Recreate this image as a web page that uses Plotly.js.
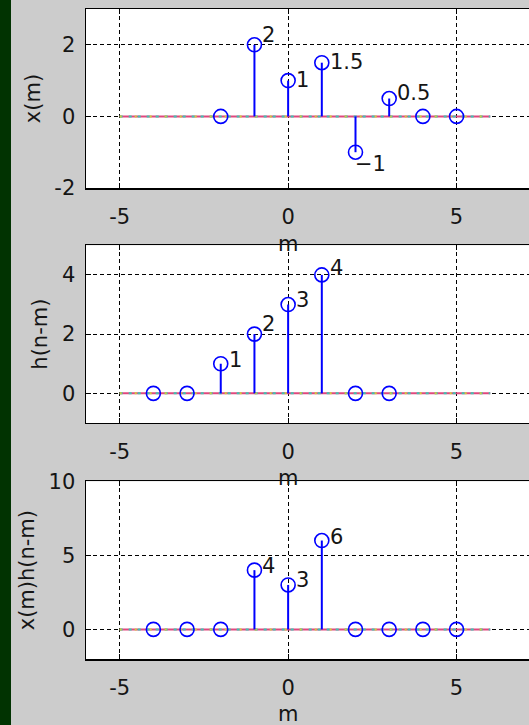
<!DOCTYPE html>
<html><head><meta charset="utf-8">
<script src="https://cdn.plot.ly/plotly-3.0.1.min.js"></script>
<style>
html,body{margin:0;padding:0;overflow:hidden;background:#cccccc;width:529px;height:725px}
#strip{position:absolute;left:0;top:0;width:11px;height:725px;background:#013301;z-index:5}
#chart{position:absolute;left:0;top:0;width:640px;height:725px}
</style></head><body>
<div id="chart"></div><div id="strip"></div>
<script>
// ---- data ----
const mX = [-2, -1, 0, 1, 2, 3, 4, 5];
const xVals = [0, 2, 1, 1.5, -1, 0.5, 0, 0];
const mH = [-4, -3, -2, -1, 0, 1, 2, 3];
const hVals = [0, 0, 1, 2, 3, 4, 0, 0];
const mP = [-4, -3, -2, -1, 0, 1, 2, 3, 4, 5];
const pVals = [0, 0, 0, 4, 3, 6, 0, 0, 0, 0];
const baseX = [-5, 6];
const baseY = [0, 0];
const xTickVals = [-5, 0, 5];
const xTickText = ['-5', '0', '5'];
const yTicks1 = [-2, 0, 2], yText1 = ['-2', '0', '2'];
const yTicks2 = [0, 2, 4], yText2 = ['0', '2', '4'];
const yTicks3 = [0, 5, 10], yText3 = ['0', '5', '10'];
const yTitles = ['x(m)', 'h(n-m)', 'x(m)h(n-m)'];
const xTitle = 'm';

// ---- style (label nudges in px, by nonzero-label order) ----
const lift1 = [10, 1, 1, -12, 5.5], push1 = [6, 6, 6, -3, 6];
const lift2 = [3.6, 10.6, 5, 7], push2 = [6, 6, 6, 6];
const lift3 = [4, 4.6, 3.7], push3 = [6, 6, 6];

const FONT = 'DejaVu Sans';
const FS = 21;
const BLUE = '#0000ff';
const TXT = '#151515';

function refs(ax) { return ax === 1 ? ['x', 'y'] : ['x' + ax, 'y' + ax]; }

function stemTraces(m, v, ax) {
  const sx = [], sy = [];
  m.forEach((mi, i) => { sx.push(mi, mi, null); sy.push(0, v[i], null); });
  const [xa, ya] = refs(ax);
  return [
    {x: baseX, y: baseY, xaxis: xa, yaxis: ya, mode: 'lines', line: {color: '#e0487e', width: 2}, hoverinfo: 'skip'},
    {x: baseX, y: baseY, xaxis: xa, yaxis: ya, mode: 'lines', line: {color: '#3cc4b4', width: 2, dash: '3px,6px'}, hoverinfo: 'skip'},
    {x: baseX, y: baseY, xaxis: xa, yaxis: ya, mode: 'lines', line: {color: '#cfcf3a', width: 2, dash: '2px,13px'}, hoverinfo: 'skip'},
    {x: sx, y: sy, xaxis: xa, yaxis: ya, mode: 'lines', line: {color: BLUE, width: 2}, hoverinfo: 'skip'},
    {x: m, y: v, xaxis: xa, yaxis: ya, mode: 'markers',
     marker: {symbol: 'circle-open', size: 14, color: BLUE, line: {width: 1.6, color: BLUE}}}
  ];
}

function labels(m, v, ax, lift, push) {
  const out = [];
  const [xa, ya] = refs(ax);
  let k = 0;
  m.forEach((mi, i) => {
    if (v[i] !== 0) {
      out.push({x: mi, y: v[i], xref: xa, yref: ya,
        text: String(v[i]).replace('-', '\u2212'), showarrow: false,
        xanchor: 'left', yanchor: 'middle', xshift: push[k], yshift: lift[k],
        font: {family: FONT, size: FS, color: TXT}});
      k++;
    }
  });
  // x-axis label, centred under m = 0
  out.push({x: 0, y: -0.232, xref: xa, yref: ya + ' domain', text: xTitle, showarrow: false,
    xanchor: 'center', yanchor: 'top', font: {family: FONT, size: FS, color: TXT}});
  return out;
}

const axStyle = {
  showline: true, linecolor: '#000', linewidth: 1.5, mirror: 'ticks',
  ticks: 'inside', ticklen: 5, tickcolor: '#000', tickwidth: 1,
  showgrid: true, gridcolor: '#000', gridwidth: 1, griddash: '4px,3px',
  zeroline: false, tickfont: {family: FONT, size: FS, color: TXT},
  tickmode: 'array', fixedrange: true
};

function xaxis(anchor) {
  return Object.assign({}, axStyle, {range: [-6, 10], tickvals: xTickVals, ticktext: xTickText,
    anchor: anchor, ticklabelstandoff: 9});
}
function yaxis(anchor, dom, range, tv, tt, title) {
  return Object.assign({}, axStyle, {range: range, tickvals: tv, ticktext: tt, domain: dom,
    anchor: anchor, ticklabelstandoff: 5,
    title: {text: title, standoff: 8, font: {family: FONT, size: FS, color: TXT}}});
}

const data = [].concat(stemTraces(mX, xVals, 1), stemTraces(mH, hVals, 2), stemTraces(mP, pVals, 3));

const layout = {
  width: 640, height: 725, showlegend: false,
  margin: {l: 86, r: 15, t: 9, b: 66},
  paper_bgcolor: '#cccccc', plot_bgcolor: '#ffffff',
  xaxis: xaxis('y'), yaxis: yaxis('x', [0.7246, 1], [-2, 3], yTicks1, yText1, yTitles[0]),
  xaxis2: xaxis('y2'), yaxis2: yaxis('x2', [0.3631, 0.6365], [-1, 5], yTicks2, yText2, yTitles[1]),
  xaxis3: xaxis('y3'), yaxis3: yaxis('x3', [0, 0.2734], [-2, 10], yTicks3, yText3, yTitles[2]),
  annotations: [].concat(labels(mX, xVals, 1, lift1, push1), labels(mH, hVals, 2, lift2, push2), labels(mP, pVals, 3, lift3, push3))
};

Plotly.newPlot('chart', data, layout, {displayModeBar: false, staticPlot: true});
</script></body></html>
